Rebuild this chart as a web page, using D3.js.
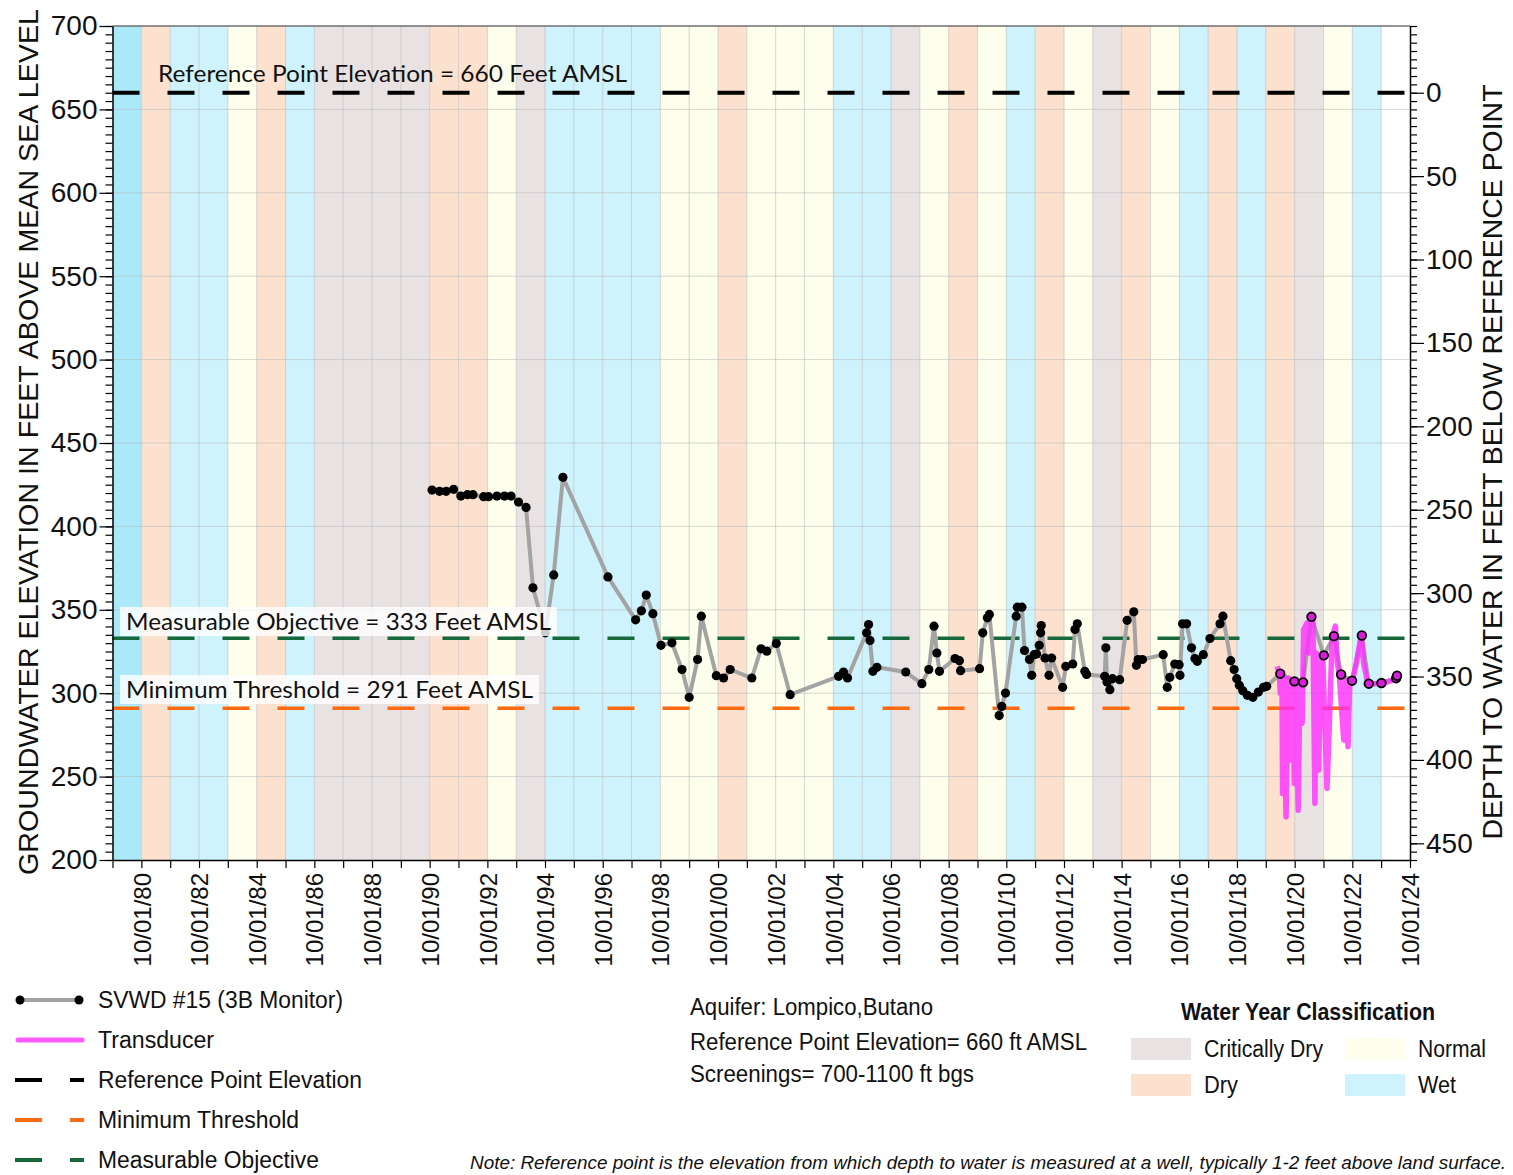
<!DOCTYPE html>
<html><head><meta charset="utf-8">
<script src="https://cdn.jsdelivr.net/npm/d3@7"></script>
<style>body{margin:0;background:#fff}svg{display:block}</style>
</head><body>
<script>
// ---------------- DATA ----------------
const waterYearStart = d3.range(1979, 2024); // water year begins 10/01 of this year
const waterYearClass = [
 "Wet","Dry","Wet","Wet","Normal","Dry","Wet","Critically Dry","Critically Dry","Critically Dry",
 "Critically Dry","Dry","Dry","Normal","Critically Dry","Wet","Wet","Wet","Wet","Normal",
 "Normal","Dry","Normal","Normal","Normal","Wet","Wet","Critically Dry","Normal","Dry",
 "Normal","Wet","Dry","Normal","Critically Dry","Dry","Normal","Wet","Dry","Wet",
 "Dry","Critically Dry","Normal","Wet",null];

// SVWD #15 (3B Monitor) manual measurements: decimal year, elevation ft AMSL
const obsYear = [1990.83,1991.09,1991.32,1991.58,1991.83,1992.06,1992.25,1992.62,1992.79,1993.08,1993.34,1993.57,1993.83,1994.09,1994.33,1994.76,1995.05,1995.37,1996.93,1997.89,1998.09,1998.26,1998.49,1998.77,1999.15,1999.50,1999.75,2000.04,2000.17,2000.69,2000.94,2001.17,2001.92,2002.24,2002.44,2002.77,2003.25,2004.93,2005.10,2005.24,2005.90,2005.97,2006.02,2006.12,2006.26,2007.26,2007.82,2008.06,2008.24,2008.34,2008.43,2008.97,2009.12,2009.16,2009.82,2009.93,2010.09,2010.16,2010.50,2010.59,2010.72,2011.09,2011.13,2011.29,2011.38,2011.55,2011.63,2011.71,2011.80,2011.89,2011.94,2011.96,2012.09,2012.23,2012.32,2012.70,2012.81,2013.05,2013.13,2013.21,2013.47,2013.53,2014.16,2014.20,2014.24,2014.34,2014.43,2014.68,2014.94,2015.17,2015.26,2015.32,2015.47,2016.19,2016.33,2016.42,2016.59,2016.74,2016.77,2016.86,2017.00,2017.17,2017.29,2017.37,2017.58,2017.81,2018.16,2018.26,2018.53,2018.65,2018.74,2018.83,2018.95,2019.11,2019.30,2019.49,2019.67,2019.78,2020.25,2020.74,2021.04,2021.33,2021.76,2022.11,2022.36,2022.74,2023.08,2023.32,2023.76,2024.27,2024.30];
const obsElev = [421.8,421.0,421.0,422.2,418.2,419.0,419.0,417.8,417.8,418.2,418.2,418.2,414.6,411.4,363.2,336.2,370.9,429.4,369.7,344.0,349.4,358.8,347.7,328.7,330.2,314.2,297.5,320.2,346.2,310.5,309.1,314.2,309.1,326.6,325.2,329.8,299.1,310.1,312.7,309.1,336.2,341.2,331.6,313.1,315.5,312.7,305.7,314.2,340.2,324.1,313.1,320.8,319.5,313.5,314.7,336.2,345.2,347.2,286.6,292.1,300.1,346.2,351.6,351.6,325.6,320.2,310.7,323.1,323.5,328.7,336.2,340.6,321.1,310.7,321.1,303.5,316.1,317.5,338.2,341.6,313.1,311.2,310.1,327.2,306.7,302.1,308.7,308.1,343.7,348.8,316.7,320.2,320.2,323.1,303.5,309.5,317.5,317.1,310.7,341.6,341.6,327.2,320.8,319.1,323.1,332.8,341.6,346.2,319.5,314.2,308.7,304.7,301.5,298.7,297.5,300.7,303.5,304.1,311.7,307.1,306.5,345.8,322.7,334.2,311.2,307.5,334.6,305.7,306.1,309.0,310.5];

// Transducer record: decimal year, elevation ft AMSL
const trYear = [2020.14,2020.22,2020.25,2020.31,2020.33,2020.38,2020.45,2020.52,2020.60,2020.66,2020.74,2020.80,2020.87,2020.93,2021.01,2021.06,2021.18,2021.24,2021.31,2021.38,2021.45,2021.50,2021.58,2021.65,2021.73,2021.87,2021.95,2022.05,2022.16,2022.23,2022.30,2022.45,2022.51,2022.60,2022.66,2022.74,2022.89,2023.06,2023.14,2023.29,2023.55,2023.78,2024.01,2024.22];
const trElev = [316.1,312.1,300.1,310.1,239.9,309.1,225.9,309.1,260.0,308.1,245.9,306.1,229.9,305.1,282.0,338.2,342.2,324.1,346.2,344.2,234.0,324.1,254.0,321.1,318.1,243.0,280.1,334.2,340.2,318.1,310.1,272.0,308.1,268.0,307.1,306.5,318.1,335.2,318.1,305.7,305.7,305.7,307.1,308.1];

const refElevation = 660, measurableObjective = 333, minimumThreshold = 291;
const elevTicks = d3.range(200, 701, 50);
const depthTicks = d3.range(0, 451, 50);
const dateTickYears = d3.range(1979, 2025);

// ---------------- LAYOUT ----------------
const W = 1513, H = 1175;
const L = 112.5, R = 1410, T = 26, B = 860;
const FONT = "'Liberation Sans', Arial, sans-serif";
const classColor = {"Critically Dry":"#e9e2e3","Dry":"#fde1cf","Normal":"#fefeec","Wet":"#cef3fc"};

const svg = d3.select("body").append("svg").attr("width", W).attr("height", H)
  .style("font-family", FONT);

const dec2date = y => { const yr = Math.floor(y); const a = new Date(yr,0,1), b = new Date(yr+1,0,1); return new Date(+a + (y-yr)*(b-a)); };
const x = d3.scaleTime().domain([new Date(1979,9,1), new Date(2024,9,1)]).range([L, R]);
const y = d3.scaleLinear().domain([200, 700]).range([B, T]);
const yDepth = d3.scaleLinear().domain([refElevation-200, refElevation-700]).range([B, T]);

// bands
svg.append("g").selectAll("rect").data(waterYearStart.map((s,i)=>({s, c: waterYearClass[i], i})).filter(d=>d.c))
  .join("rect")
  .attr("x", d => x(new Date(d.s,9,1))).attr("y", T)
  .attr("width", d => x(new Date(d.s+1,9,1)) - x(new Date(d.s,9,1))).attr("height", B-T)
  .attr("fill", d => d.i === 0 ? "#abe8f8" : classColor[d.c]);

// grid
const grid = svg.append("g").attr("stroke", "#b9bcbd").attr("stroke-opacity", 0.6).attr("stroke-width", 1);
grid.selectAll(".v").data(dateTickYears.slice(1,-1)).join("line")
  .attr("x1", d => x(new Date(d,9,1))).attr("x2", d => x(new Date(d,9,1))).attr("y1", T).attr("y2", B);
grid.selectAll(".h").data(elevTicks.slice(1,-1)).join("line")
  .attr("x1", L).attr("x2", R).attr("y1", d => y(d)).attr("y2", d => y(d));

// horizontal reference lines
const hlines = [
  {v: refElevation, c: "#000000", w: 4},
  {v: measurableObjective, c: "#17693b", w: 3.5},
  {v: minimumThreshold, c: "#ff6a10", w: 3.5}
];
svg.append("g").selectAll("line").data(hlines).join("line")
  .attr("x1", L).attr("x2", R).attr("y1", d => y(d.v)).attr("y2", d => y(d.v))
  .attr("stroke", d => d.c).attr("stroke-width", d => d.w).attr("stroke-dasharray", "27,28");

// series
const obs = obsYear.map((t,i) => ({d: dec2date(t), t, v: obsElev[i]}));
const tr = trYear.map((t,i) => ({d: dec2date(t), v: trElev[i]}));
const line = d3.line().x(d => x(d.d)).y(d => y(d.v));
svg.append("path").datum(obs).attr("d", line).attr("fill", "none")
  .attr("stroke", "#a3a3a3").attr("stroke-width", 4).attr("stroke-linejoin", "round");
svg.append("path").datum(tr).attr("d", line).attr("fill", "none")
  .attr("stroke", "#ff2cff").attr("stroke-opacity", 0.8).attr("stroke-width", 5.5).attr("stroke-linejoin", "round");
svg.append("g").selectAll("circle").data(obs).join("circle")
  .attr("cx", d => x(d.d)).attr("cy", d => y(d.v)).attr("r", d => d.t >= trYear[0] ? 4.3 : 4.6)
  .attr("fill", d => d.t >= trYear[0] ? "#d81ed8" : "#000")
  .attr("stroke", "#000").attr("stroke-width", d => d.t >= trYear[0] ? 1.8 : 0);

// annotation labels (drawn over the series)
const ANN = "Lato, 'Open Sans', sans-serif";
function ann(text, x0, len, cy, box){
  if (box) svg.append("rect").attr("x", x0-6).attr("y", cy-15).attr("width", len+12).attr("height", 29)
      .attr("fill", "#fff").attr("fill-opacity", 0.8);
  svg.append("text").attr("x", x0).attr("y", cy).attr("dy", "0.36em").text(text)
    .style("font-family", ANN).style("font-size", "23px").attr("fill", "#111")
    .attr("textLength", len).attr("lengthAdjust", "spacingAndGlyphs");
}
ann(`Reference Point Elevation = ${refElevation} Feet AMSL`, 158, 469, 74, false);
ann(`Measurable Objective = ${measurableObjective} Feet AMSL`, 126, 425, 622, true);
ann(`Minimum Threshold = ${minimumThreshold} Feet AMSL`, 126, 407, 690, true);

// frame
svg.append("line").attr("x1", L).attr("x2", R).attr("y1", T).attr("y2", T).attr("stroke", "#6f6f6f").attr("stroke-width", 1.5);

// axes
const axL = svg.append("g").attr("transform", `translate(${L},0)`)
  .call(d3.axisLeft(y).tickValues(elevTicks).tickSize(13).tickPadding(2).tickSizeOuter(0));
svg.append("g").attr("transform", `translate(${L},0)`)
  .call(d3.axisLeft(y).tickValues(d3.range(200, 701, 5)).tickSize(7).tickFormat("").tickSizeOuter(0))
  .select(".domain").remove();
axL.selectAll("text").style("font-size", "28px").style("font-family", FONT).attr("fill", "#111");

const axR = svg.append("g").attr("transform", `translate(${R},0)`)
  .call(d3.axisRight(yDepth).tickValues(depthTicks).tickSize(14).tickPadding(2).tickSizeOuter(0));
svg.append("g").attr("transform", `translate(${R},0)`)
  .call(d3.axisRight(yDepth).tickValues(d3.range(-40, 461, 5)).tickSize(7).tickFormat("").tickSizeOuter(0))
  .select(".domain").remove();
axR.selectAll("text").style("font-size", "28px").style("font-family", FONT).attr("fill", "#111");

const fmt = d3.timeFormat("%m/%d/%y");
const axB = svg.append("g").attr("transform", `translate(0,${B})`)
  .call(d3.axisBottom(x).tickValues(dateTickYears.map(yy => new Date(yy,9,1))).tickSize(8).tickSizeOuter(0)
    .tickFormat(d => (d.getFullYear() % 2 === 0) ? fmt(d) : ""));
axB.selectAll("text").attr("transform", "rotate(-90)").attr("x", -13).attr("y", 0).attr("dy", "0.36em")
  .style("text-anchor", "end").style("font-size", "24px").style("font-family", FONT).attr("fill", "#111");
svg.selectAll(".domain").attr("stroke", "#000").attr("stroke-width", 1.5);
svg.selectAll(".tick line").attr("stroke", "#000").attr("stroke-width", 1.2);

// axis titles
svg.append("text").attr("transform", "translate(28,442) rotate(-90)").attr("dy", "0.36em")
  .attr("text-anchor", "middle").style("font-size", "28px").attr("fill", "#111")
  .attr("textLength", 866).attr("lengthAdjust", "spacingAndGlyphs")
  .text("GROUNDWATER ELEVATION IN FEET ABOVE MEAN SEA LEVEL");
svg.append("text").attr("transform", "translate(1492,462) rotate(-90)").attr("dy", "0.36em")
  .attr("text-anchor", "middle").style("font-size", "28px").attr("fill", "#111")
  .attr("textLength", 755).attr("lengthAdjust", "spacingAndGlyphs")
  .text("DEPTH TO WATER IN FEET BELOW REFERENCE POINT");

// text helper
function label(str, x0, cy, size, len, opts = {}){
  const t = svg.append("text").attr("x", x0).attr("y", cy).attr("dy", "0.36em").text(str)
    .style("font-size", size + "px").attr("fill", "#111");
  if (len) t.attr("textLength", len).attr("lengthAdjust", "spacingAndGlyphs");
  if (opts.bold) t.style("font-weight", "bold");
  if (opts.italic) t.style("font-style", "italic");
  return t;
}

// series legend
const lg = svg.append("g");
lg.append("line").attr("x1", 20).attr("x2", 79).attr("y1", 1000).attr("y2", 1000).attr("stroke", "#a3a3a3").attr("stroke-width", 4);
lg.selectAll("circle").data([20, 79]).join("circle").attr("cx", d => d).attr("cy", 1000).attr("r", 4.5).attr("fill", "#000");
lg.append("line").attr("x1", 18).attr("x2", 82).attr("y1", 1040).attr("y2", 1040).attr("stroke", "#ff5cff").attr("stroke-width", 5).attr("stroke-linecap", "round");
[[1080, "#000"], [1120, "#ff6a10"], [1160, "#17693b"]].forEach(([yy, c]) => {
  lg.append("line").attr("x1", 15).attr("x2", 42).attr("y1", yy).attr("y2", yy).attr("stroke", c).attr("stroke-width", 4);
  lg.append("line").attr("x1", 70).attr("x2", 84).attr("y1", yy).attr("y2", yy).attr("stroke", c).attr("stroke-width", 4);
});
label("SVWD #15 (3B Monitor)", 98, 1000, 23, 245);
label("Transducer", 98, 1040, 23, 116);
label("Reference Point Elevation", 98, 1080, 23, 264);
label("Minimum Threshold", 98, 1120, 23, 201);
label("Measurable Objective", 98, 1160, 23, 221);

// well info
label("Aquifer: Lompico,Butano", 690, 1007, 23, 243);
label(`Reference Point Elevation= ${refElevation} ft AMSL`, 690, 1042, 23, 397);
label("Screenings= 700-1100 ft bgs", 690, 1074, 23, 284);

// water year legend
label("Water Year Classification", 1181, 1012, 23, 254, {bold: true});
const wy = [["Critically Dry", 1131, 1049, 119], ["Normal", 1345, 1049, 68], ["Dry", 1131, 1085, 34], ["Wet", 1345, 1085, 38]];
wy.forEach(([n, x0, cy, len]) => {
  svg.append("rect").attr("x", x0).attr("y", cy - 11).attr("width", 60).attr("height", 22).attr("fill", classColor[n]);
  label(n, x0 + 73, cy, 23, len);
});

label("Note: Reference point is the elevation from which depth to water is measured at a well, typically 1-2 feet above land surface.",
  470, 1162, 19, 1036, {italic: true});
</script>
</body></html>
